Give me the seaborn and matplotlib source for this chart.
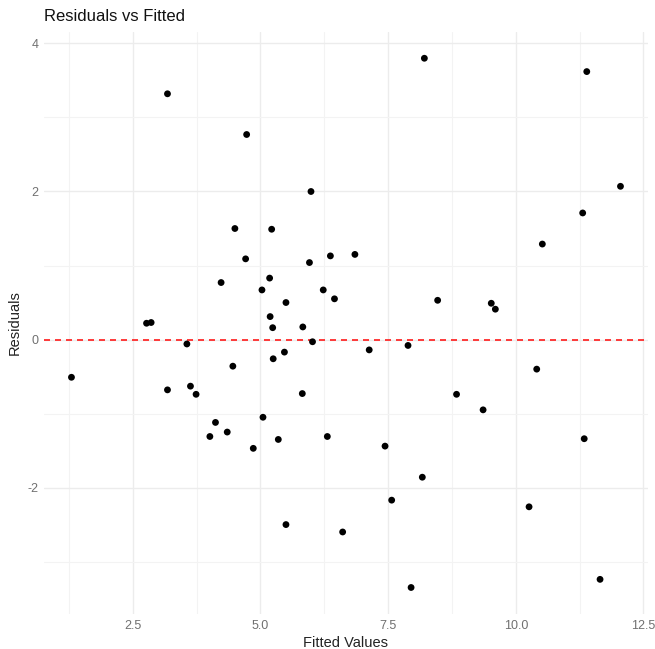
import matplotlib
matplotlib.use("Agg")
import seaborn as sns
import matplotlib.pyplot as plt
import pandas as pd
from matplotlib.ticker import MultipleLocator

# fitted values and residuals
fitted = [3.18, 4.73, 5.99, 4.50, 5.22, 4.71, 5.96, 6.37, 4.23, 5.18,
          5.03, 6.23, 5.50, 5.19, 2.77, 2.86, 5.24, 5.83, 8.21, 11.39,
          12.05, 11.31, 10.52, 6.85, 6.45, 8.47, 9.52, 9.60, 3.56, 6.02,
          1.30, 5.25, 5.47, 4.46, 3.18, 3.63, 3.74, 5.82, 4.12, 5.05,
          4.01, 4.35, 5.35, 4.86, 6.31, 5.50, 7.13, 7.89, 10.41, 8.84,
          9.36, 7.44, 11.34, 8.17, 7.57, 10.26, 6.61, 7.95, 11.65]
residuals = [3.32, 2.77, 2.00, 1.50, 1.49, 1.09, 1.04, 1.13, 0.77, 0.83,
             0.67, 0.67, 0.50, 0.31, 0.22, 0.23, 0.16, 0.17, 3.80, 3.62,
             2.07, 1.71, 1.29, 1.15, 0.55, 0.53, 0.49, 0.41, -0.06, -0.03,
             -0.51, -0.26, -0.17, -0.36, -0.68, -0.63, -0.74, -0.73, -1.12, -1.05,
             -1.31, -1.25, -1.35, -1.47, -1.31, -2.50, -0.14, -0.08, -0.40, -0.74,
             -0.95, -1.44, -1.34, -1.86, -2.17, -2.26, -2.60, -3.35, -3.24]

df = pd.DataFrame({"fitted": fitted, "resid": residuals})

sns.set_style("white")
plt.rcParams["font.family"] = ["Liberation Sans", "DejaVu Sans"]

fig = plt.figure(figsize=(6.55, 6.49), dpi=100)
ax = fig.add_axes([0.0672, 0.054, 0.922, 0.897])

sns.scatterplot(data=df, x="fitted", y="resid", color="black", s=24,
                edgecolor="none", ax=ax, zorder=3)
ax.axhline(0, color="#ff1a1a", lw=1.2, linestyle=(0, (3.6, 3.0)), zorder=2)

# ggplot-like expansion of 5%
xr = max(fitted) - min(fitted)
yr = max(residuals) - min(residuals)
ax.set_xlim(min(fitted) - 0.05 * xr, max(fitted) + 0.05 * xr)
ax.set_ylim(min(residuals) - 0.05 * yr, max(residuals) + 0.05 * yr)

ax.xaxis.set_major_locator(MultipleLocator(2.5))
ax.xaxis.set_minor_locator(MultipleLocator(1.25))
ax.yaxis.set_major_locator(MultipleLocator(2))
ax.yaxis.set_minor_locator(MultipleLocator(1))
ax.xaxis.set_major_formatter(matplotlib.ticker.FormatStrFormatter("%.1f"))
ax.yaxis.set_major_formatter(matplotlib.ticker.FormatStrFormatter("%d"))

ax.grid(which="major", color="#ececec", lw=1.0)
ax.grid(which="minor", color="#f3f3f3", lw=0.8)
ax.set_axisbelow(True)
for s in ax.spines.values():
    s.set_visible(False)
ax.tick_params(which="both", length=0, labelsize=9, labelcolor="#707070", pad=4)

ax.set_xlabel("Fitted Values", fontsize=10.5, color="#222222", labelpad=3)
ax.set_ylabel("Residuals", fontsize=10.5, color="#222222", labelpad=4)
ax.set_title("Residuals vs Fitted", loc="left", fontsize=12, color="#111111", pad=8)

fig.savefig("out.png", dpi=100)
